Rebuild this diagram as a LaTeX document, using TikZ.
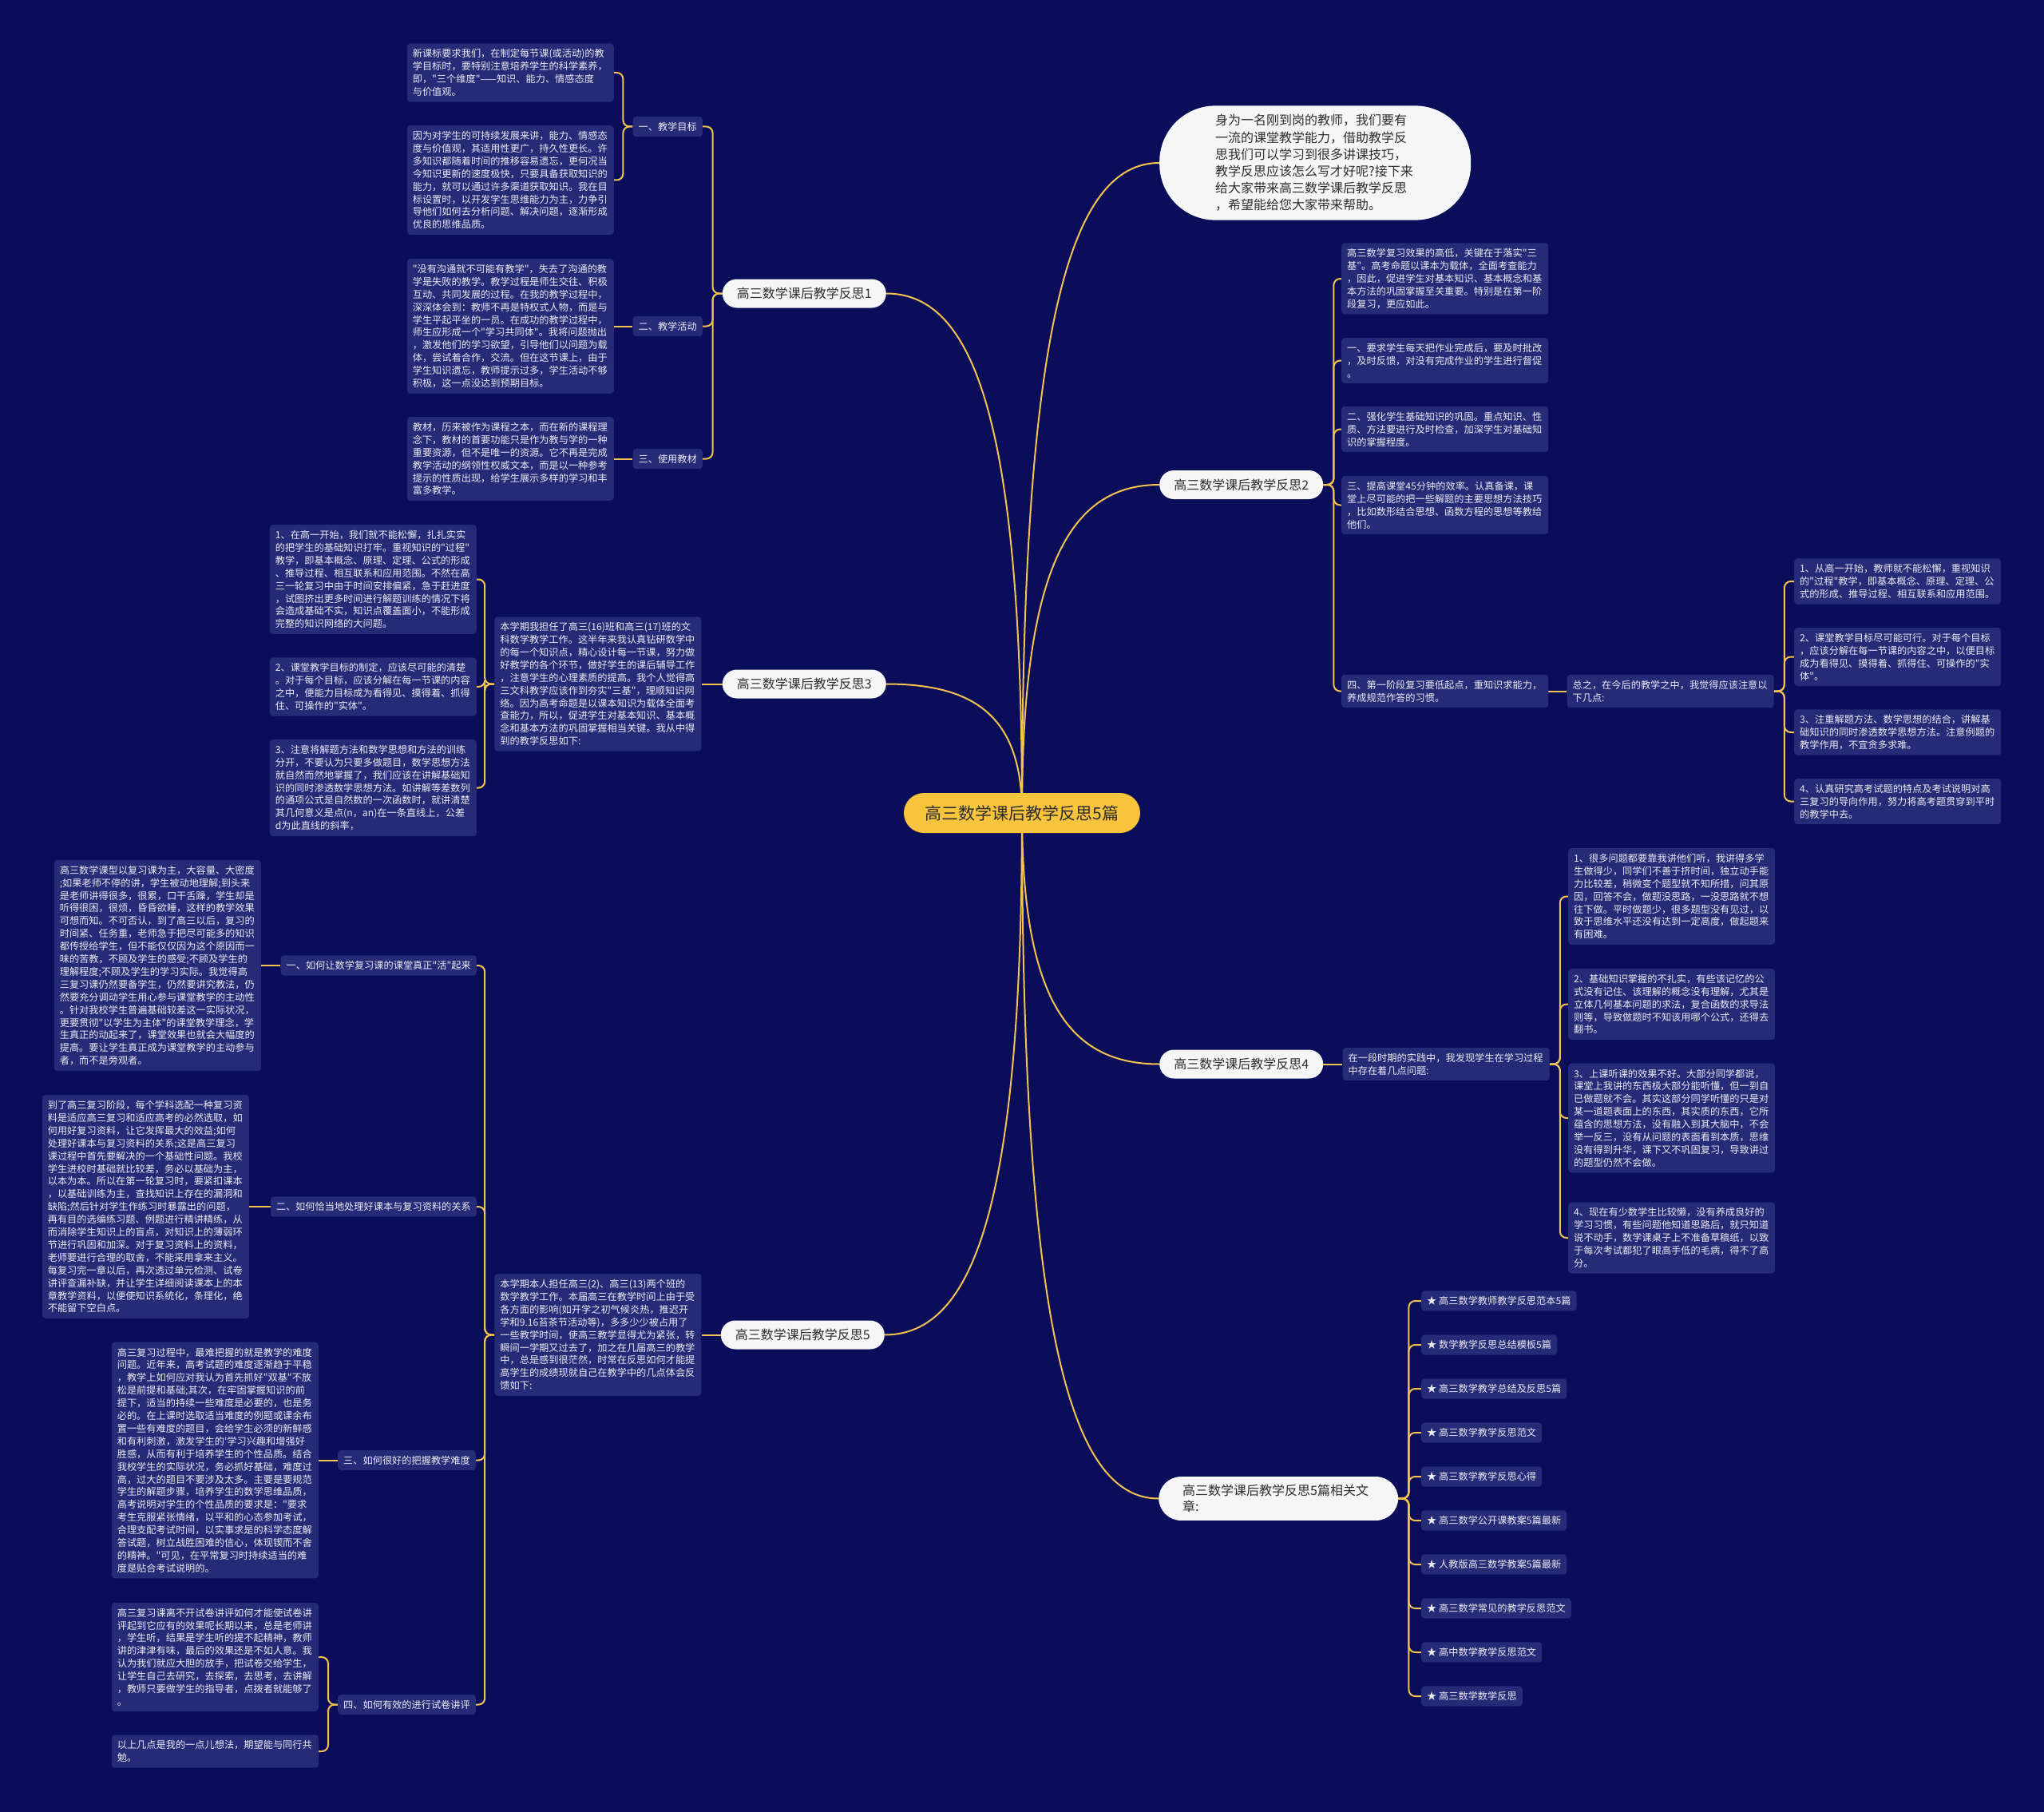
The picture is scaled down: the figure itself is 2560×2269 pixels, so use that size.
\documentclass[tikz,border=0pt]{standalone}
\usepackage{fontspec}
\setmainfont{Noto Sans CJK SC}[Ligatures=TeXOff]
\usetikzlibrary{positioning, calc, backgrounds}
\pgfdeclarelayer{bg}
\pgfdeclarelayer{links}
\pgfsetlayers{bg,links,main}
\definecolor{mapnavy}{RGB}{10,14,90}
\definecolor{boxblue}{RGB}{37,43,119}
\definecolor{notetext}{RGB}{236,236,244}
\definecolor{linegold}{RGB}{243,194,80}
\definecolor{hubgold}{RGB}{248,196,62}
\definecolor{leafwhite}{RGB}{246,246,246}
\definecolor{darktext}{RGB}{45,45,45}

\tikzset{
  hubnode/.style={fill=hubgold, text=darktext, rounded corners=25pt, minimum width=296pt,
    minimum height=50pt, font=\fontsize{21}{24}\selectfont},
  topic/.style={fill=leafwhite, text=darktext, rounded corners=18pt, minimum width=205pt,
    minimum height=36pt, font=\fontsize{16}{20}\selectfont},
  introbox/.style={fill=leafwhite, text=darktext, rounded corners=70pt, align=left,
    text width=250pt, inner xsep=70pt, inner ysep=11pt, font=\fontsize{16}{21.2}\selectfont},
  relbox/.style={fill=leafwhite, text=darktext, rounded corners=28pt, align=left,
    text width=240pt, inner xsep=30pt, inner ysep=10pt, font=\fontsize{16}{20}\selectfont},
  notebox/.style={fill=boxblue, text=notetext, rounded corners=4pt, align=left,
    text width=245pt, inner xsep=7pt, inner ysep=7pt, font=\fontsize{12.2}{15.9}\selectfont},
  tagbox/.style={fill=boxblue, text=notetext, rounded corners=4pt, inner xsep=7pt,
    inner ysep=7pt, font=\fontsize{12.2}{14}\selectfont},
  bough/.style={draw=linegold, line width=2pt},
  rtrunk/.style={rounded corners=8pt, to path={-- ++(13,0) |- (\tikztotarget)}},
  ltrunk/.style={rounded corners=8pt, to path={-- ++(-12,0) |- (\tikztotarget)}},
  rootcurve/.style={line width=2.6pt, to path={.. controls ($(\tikztostart)!0.75!(\tikztostart|-\tikztotarget)$)
    and ($(\tikztotarget)!0.65!(\tikztostart|-\tikztotarget)$) .. (\tikztotarget)}}
}

\begin{document}
\begin{tikzpicture}[x=1pt, y=-1pt]
\begin{pgfonlayer}{bg}
  \fill[mapnavy] (0,0) rectangle (2560,2269);
\end{pgfonlayer}
\useasboundingbox (0,0) rectangle (2560,2269);

\node[hubnode] (hub) at (1280,1018) {高三数学课后教学反思5篇};

% right half
\node[introbox, anchor=west] (intro) at (1452,204) {身为一名刚到岗的教师，我们要有\\一流的课堂教学能力，借助教学反\\思我们可以学习到很多讲课技巧，\\教学反思应该怎么写才好呢?接下来\\给大家带来高三数学课后教学反思\\，希望能给您大家带来帮助。};

\node[topic, anchor=west] (r2) at (1452,607) {高三数学课后教学反思2};
\node[notebox, anchor=west] (c2a) at (1680,349) {高三数学复习效果的高低，关键在于落实"三\\基"。高考命题以课本为载体，全面考查能力\\，因此，促进学生对基本知识、基本概念和基\\本方法的巩固掌握至关重要。特别是在第一阶\\段复习，更应如此。};
\node[notebox, anchor=west] (c2b) at (1680,451.5) {一、要求学生每天把作业完成后，要及时批改\\，及时反馈，对没有完成作业的学生进行督促\\。};
\node[notebox, anchor=west] (c2c) at (1680,537.5) {二、强化学生基础知识的巩固。重点知识、性\\质、方法要进行及时检查，加深学生对基础知\\识的掌握程度。};
\node[notebox, anchor=west] (c2d) at (1680,632.5) {三、提高课堂45分钟的效率。认真备课，课\\堂上尽可能的把一些解题的主要思想方法技巧\\，比如数形结合思想、函数方程的思想等教给\\他们。};
\node[notebox, anchor=west] (c2e) at (1680,865.5) {四、第一阶段复习要低起点，重知识求能力，\\养成规范作答的习惯。};
\node[notebox, right=23pt of c2e] (sum2) {总之，在今后的教学之中，我觉得应该注意以\\下几点:};
\node[notebox, anchor=west] (d1) at (2247,728) {1、从高一开始，教师就不能松懈，重视知识\\的"过程"教学，即基本概念、原理、定理、公\\式的形成、推导过程、相互联系和应用范围。};
\node[notebox, anchor=west] (d2) at (2247,822.5) {2、课堂教学目标尽可能可行。对于每个目标\\，应该分解在每一节课的内容之中，以便目标\\成为看得见、摸得着、抓得住、可操作的"实\\体"。};
\node[notebox, anchor=west] (d3) at (2247,917) {3、注重解题方法、数学思想的结合，讲解基\\础知识的同时渗透数学思想方法。注意例题的\\教学作用，不宜贪多求难。};
\node[notebox, anchor=west] (d4) at (2247,1003.5) {4、认真研究高考试题的特点及考试说明对高\\三复习的导向作用，努力将高考题贯穿到平时\\的教学中去。};

\node[topic, anchor=west] (r4) at (1452,1332.5) {高三数学课后教学反思4};
\node[notebox, right=24pt of r4] (g4) {在一段时期的实践中，我发现学生在学习过程\\中存在着几点问题:};
\node[notebox, anchor=west] (h1) at (1964,1122.5) {1、很多问题都要靠我讲他们听，我讲得多学\\生做得少，同学们不善于挤时间，独立动手能\\力比较差，稍微变个题型就不知所措，问其原\\因，回答不会，做题没思路，一没思路就不想\\往下做。平时做题少，很多题型没有见过，以\\致于思维水平还没有达到一定高度，做起题来\\有困难。};
\node[notebox, anchor=west] (h2) at (1964,1257.5) {2、基础知识掌握的不扎实，有些该记忆的公\\式没有记住、该理解的概念没有理解，尤其是\\立体几何基本问题的求法，复合函数的求导法\\则等，导致做题时不知该用哪个公式，还得去\\翻书。};
\node[notebox, anchor=west] (h3) at (1964,1400) {3、上课听课的效果不好。大部分同学都说，\\课堂上我讲的东西极大部分能听懂，但一到自\\已做题就不会。其实这部分同学听懂的只是对\\某一道题表面上的东西，其实质的东西，它所\\蕴含的思想方法，没有融入到其大脑中，不会\\举一反三，没有从问题的表面看到本质，思维\\没有得到升华，课下又不巩固复习，导致讲过\\的题型仍然不会做。};
\node[notebox, anchor=west] (h4) at (1964,1550) {4、现在有少数学生比较懒，没有养成良好的\\学习习惯，有些问题他知道思路后，就只知道\\说不动手，数学课桌子上不准备草稿纸，以致\\于每次考试都犯了眼高手低的毛病，得不了高\\分。};

\node[relbox, anchor=west] (rel) at (1451,1876.5) {高三数学课后教学反思5篇相关文\\章:};
\foreach \txt [count=\i] in {高三数学教师教学反思范本5篇, 数学教学反思总结模板5篇,
  高三数学教学总结及反思5篇, 高三数学教学反思范文, 高三数学教学反思心得,
  高三数学公开课教案5篇最新, 人教版高三数学教案5篇最新, 高三数学常见的教学反思范文,
  高中数学教学反思范文, 高三数学数学反思}
  \node[tagbox, anchor=west] (rel\i) at (1780,{1574+55*\i}) {★ \txt};

% left half
\node[topic, anchor=east] (r1) at (1110,367.5) {高三数学课后教学反思1};
\node[tagbox, anchor=east] (a1) at (880,158.5) {一、教学目标};
\node[tagbox, anchor=east] (a2) at (880,408.5) {二、教学活动};
\node[tagbox, anchor=east] (a3) at (880,574.5) {三、使用教材};
\node[notebox, anchor=east] (t1a) at (769,91) {新课标要求我们，在制定每节课(或活动)的教\\学目标时，要特别注意培养学生的科学素养，\\即，"三个维度"——知识、能力、情感态度\\与价值观。};
\node[notebox, anchor=east] (t1b) at (769,225.5) {因为对学生的可持续发展来讲，能力、情感态\\度与价值观，其适用性更广，持久性更长。许\\多知识都随着时间的推移容易遗忘，更何况当\\今知识更新的速度极快，只要具备获取知识的\\能力，就可以通过许多渠道获取知识。我在目\\标设置时，以开发学生思维能力为主，力争引\\导他们如何去分析问题、解决问题，逐渐形成\\优良的思维品质。};
\node[notebox, anchor=east] (t1c) at (769,408.5) {"没有沟通就不可能有教学"，失去了沟通的教\\学是失败的教学。教学过程是师生交往、积极\\互动、共同发展的过程。在我的教学过程中，\\深深体会到：教师不再是特权式人物，而是与\\学生平起平坐的一员。在成功的教学过程中，\\师生应形成一个"学习共同体"。我将问题抛出\\，激发他们的学习欲望，引导他们以问题为载\\体，尝试着合作，交流。但在这节课上，由于\\学生知识遗忘，教师提示过多，学生活动不够\\积极，这一点没达到预期目标。};
\node[notebox, anchor=east] (t1d) at (769,574.5) {教材，历来被作为课程之本，而在新的课程理\\念下，教材的首要功能只是作为教与学的一种\\重要资源，但不是唯一的资源。它不再是完成\\教学活动的纲领性权威文本，而是以一种参考\\提示的性质出现，给学生展示多样的学习和丰\\富多教学。};

\node[topic, anchor=east] (r3) at (1110,856.5) {高三数学课后教学反思3};
\node[notebox, left=26pt of r3] (b3) {本学期我担任了高三(16)班和高三(17)班的文\\科数学教学工作。这半年来我认真钻研数学中\\的每一个知识点，精心设计每一节课，努力做\\好教学的各个环节，做好学生的课后辅导工作\\，注意学生的心理素质的提高。我个人觉得高\\三文科教学应该作到夯实"三基"，理顺知识网\\络。因为高考命题是以课本知识为载体全面考\\查能力，所以，促进学生对基本知识、基本概\\念和基本方法的巩固掌握相当关键。我从中得\\到的教学反思如下:};
\node[notebox, anchor=east] (e1) at (597,725.5) {1、在高一开始，我们就不能松懈，扎扎实实\\的把学生的基础知识打牢。重视知识的"过程"\\教学，即基本概念、原理、定理、公式的形成\\、推导过程、相互联系和应用范围。不然在高\\三一轮复习中由于时间安排偏紧，急于赶进度\\，试图挤出更多时间进行解题训练的情况下将\\会造成基础不实，知识点覆盖面小，不能形成\\完整的知识网络的大问题。};
\node[notebox, anchor=east] (e2) at (597,860) {2、课堂教学目标的制定，应该尽可能的清楚\\。对于每个目标，应该分解在每一节课的内容\\之中，便能力目标成为看得见、摸得着、抓得\\住、可操作的"实体"。};
\node[notebox, anchor=east] (e3) at (597,986.5) {3、注意将解题方法和数学思想和方法的训练\\分开，不要认为只要多做题目，数学思想方法\\就自然而然地掌握了，我们应该在讲解基础知\\识的同时渗透数学思想方法。如讲解等差数列\\的通项公式是自然数的一次函数时，就讲清楚\\其几何意义是点(n，an)在一条直线上，公差\\d为此直线的斜率，};

\node[topic, anchor=east] (r5) at (1108,1671.5) {高三数学课后教学反思5};
\node[notebox, left=24pt of r5] (b5) {本学期本人担任高三(2)、高三(13)两个班的\\数学教学工作。本届高三在教学时间上由于受\\各方面的影响(如开学之初气候炎热，推迟开\\学和9.16苔茶节活动等)，多多少少被占用了\\一些教学时间，使高三教学显得尤为紧张，转\\瞬间一学期又过去了，加之在几届高三的教学\\中，总是感到很茫然，时常在反思如何才能提\\高学生的成绩现就自己在教学中的几点体会反\\馈如下:};
\node[tagbox, anchor=east] (q1) at (597,1209) {一、如何让数学复习课的课堂真正"活"起来};
\node[tagbox, anchor=east] (q2) at (597,1511) {二、如何恰当地处理好课本与复习资料的关系};
\node[tagbox, anchor=east] (q3) at (596,1828.5) {三、如何很好的把握教学难度};
\node[tagbox, anchor=east] (q4) at (596,2134.5) {四、如何有效的进行试卷讲评};
\node[notebox, anchor=east] (f1) at (327,1209) {高三数学课型以复习课为主，大容量、大密度\\;如果老师不停的讲，学生被动地理解;到头来\\是老师讲得很多，很累，口干舌躁，学生却是\\听得很困，很烦，昏昏欲睡，这样的教学效果\\可想而知。不可否认，到了高三以后，复习的\\时间紧、任务重，老师急于把尽可能多的知识\\都传授给学生，但不能仅仅因为这个原因而一\\味的苦教，不顾及学生的感受;不顾及学生的\\理解程度;不顾及学生的学习实际。我觉得高\\三复习课仍然要备学生，仍然要讲究教法，仍\\然要充分调动学生用心参与课堂教学的主动性\\。针对我校学生普遍基础较差这一实际状况，\\更要贯彻"以学生为主体"的课堂教学理念，学\\生真正的动起来了，课堂效果也就会大幅度的\\提高。要让学生真正成为课堂教学的主动参与\\者，而不是旁观者。};
\node[notebox, anchor=east] (f2) at (312,1511) {到了高三复习阶段，每个学科选配一种复习资\\料是适应高三复习和适应高考的必然选取，如\\何用好复习资料，让它发挥最大的效益;如何\\处理好课本与复习资料的关系;这是高三复习\\课过程中首先要解决的一个基础性问题。我校\\学生进校时基础就比较差，务必以基础为主，\\以本为本。所以在第一轮复习时，要紧扣课本\\，以基础训练为主，查找知识上存在的漏洞和\\缺陷;然后针对学生作练习时暴露出的问题，\\再有目的选编练习题、例题进行精讲精练，从\\而消除学生知识上的盲点，对知识上的薄弱环\\节进行巩固和加深。对于复习资料上的资料，\\老师要进行合理的取舍，不能采用拿来主义。\\每复习完一章以后，再次透过单元检测、试卷\\讲评查漏补缺，并让学生详细阅读课本上的本\\章教学资料，以便使知识系统化，条理化，绝\\不能留下空白点。};
\node[notebox, anchor=east] (f3) at (399,1828.5) {高三复习过程中，最难把握的就是教学的难度\\问题。近年来，高考试题的难度逐渐趋于平稳\\，教学上如何应对我认为首先抓好"双基"不放\\松是前提和基础;其次，在牢固掌握知识的前\\提下，适当的持续一些难度是必要的，也是务\\必的。在上课时选取适当难度的例题或课余布\\置一些有难度的题目，会给学生必须的新鲜感\\和有利刺激，激发学生的'学习兴趣和增强好\\胜感，从而有利于培养学生的个性品质。结合\\我校学生的实际状况，务必抓好基础，难度过\\高，过大的题目不要涉及太多。主要是要规范\\学生的解题步骤，培养学生的数学思维品质，\\高考说明对学生的个性品质的要求是："要求\\考生克服紧张情绪，以平和的心态参加考试，\\合理支配考试时间，以实事求是的科学态度解\\答试题，树立战胜困难的信心，体现锲而不舍\\的精神。"可见，在平常复习时持续适当的难\\度是贴合考试说明的。};
\node[notebox, anchor=east] (f4a) at (399,2075) {高三复习课离不开试卷讲评如何才能使试卷讲\\评起到它应有的效果呢长期以来，总是老师讲\\，学生听，结果是学生听的提不起精神，教师\\讲的津津有味，最后的效果还是不如人意。我\\认为我们就应大胆的放手，把试卷交给学生，\\让学生自己去研究，去探索，去思考，去讲解\\，教师只要做学生的指导者，点拨者就能够了\\。};
\node[notebox, anchor=east] (f4b) at (399,2193) {以上几点是我的一点儿想法，期望能与同行共\\勉。};

% connectors
\begin{pgfonlayer}{links}
  \foreach \t in {intro, r2, r4, rel}
    \draw[bough] (hub.center) to[rootcurve] (\t.west);
  \foreach \t in {r1, r3, r5}
    \draw[bough] (hub.center) to[rootcurve] (\t.east);
  \foreach \c in {c2a, c2b, c2c, c2d, c2e}
    \draw[bough] (r2.east) to[rtrunk] (\c.west);
  \draw[bough] (c2e) -- (sum2);
  \foreach \c in {d1, d2, d3, d4}
    \draw[bough] (sum2.east) to[rtrunk] (\c.west);
  \draw[bough] (r4) -- (g4);
  \foreach \c in {h1, h2, h3, h4}
    \draw[bough] (g4.east) to[rtrunk] (\c.west);
  \foreach \i in {1,...,10}
    \draw[bough] (rel.east) to[rtrunk] (rel\i.west);
  \foreach \c in {a1, a2, a3}
    \draw[bough] (r1.west) to[ltrunk] (\c.east);
  \draw[bough] (a1.west) to[ltrunk] (t1a.east);
  \draw[bough] (a1.west) to[ltrunk] (t1b.east);
  \draw[bough] (a2) -- (t1c);
  \draw[bough] (a3) -- (t1d);
  \draw[bough] (r3) -- (b3);
  \foreach \c in {e1, e2, e3}
    \draw[bough] (b3.west) to[ltrunk] (\c.east);
  \draw[bough] (r5) -- (b5);
  \foreach \c in {q1, q2, q3, q4}
    \draw[bough] (b5.west) to[ltrunk] (\c.east);
  \draw[bough] (q1) -- (f1);
  \draw[bough] (q2) -- (f2);
  \draw[bough] (q3) -- (f3);
  \draw[bough] (q4.west) to[ltrunk] (f4a.east);
  \draw[bough] (q4.west) to[ltrunk] (f4b.east);
\end{pgfonlayer}
\end{tikzpicture}
\end{document}
